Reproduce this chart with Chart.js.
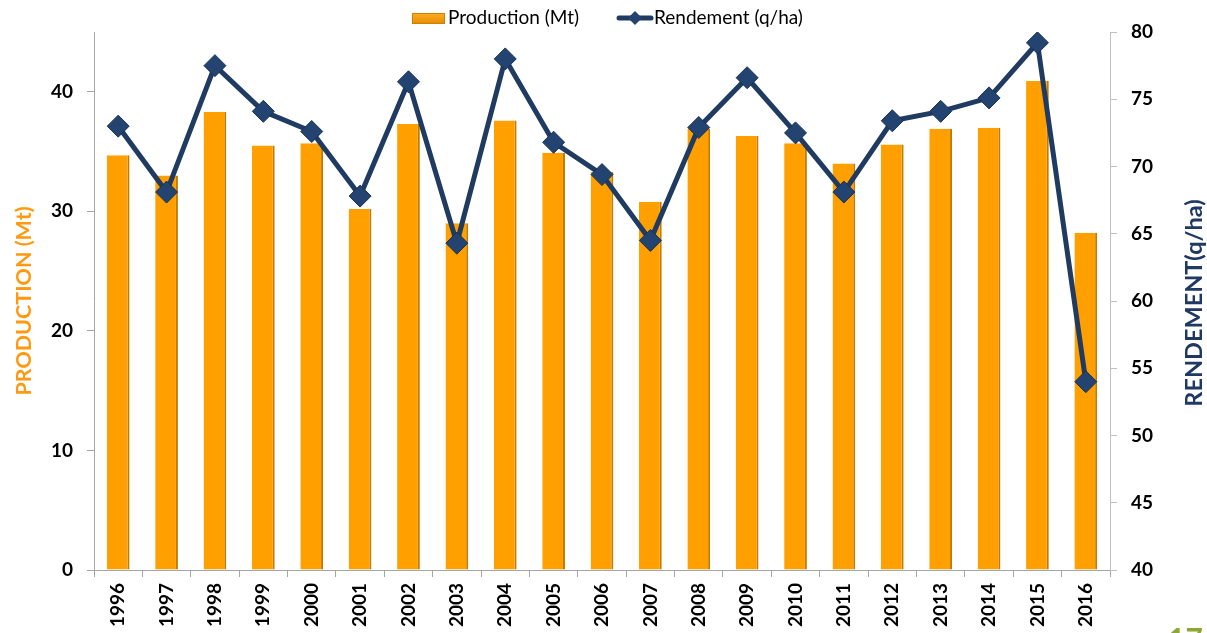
<!DOCTYPE html>
<html>
<head>
<meta charset="utf-8">
<script src="https://cdn.jsdelivr.net/npm/chart.js@4.4.1/dist/chart.umd.min.js"></script>
<style>
  html, body { margin: 0; padding: 0; background: #ffffff; }
  #wrap { position: relative; width: 1207px; height: 633px; overflow: hidden; }
  canvas { display: block; }
</style>
</head>
<body>
<div id="wrap"><canvas id="c" width="1207" height="633"></canvas></div>
<script>
// ---- Data ----
const years = ['1996','1997','1998','1999','2000','2001','2002','2003','2004','2005','2006','2007','2008','2009','2010','2011','2012','2013','2014','2015','2016'];
const production = [34.7, 33.0, 38.3, 35.5, 35.7, 30.2, 37.3, 29.0, 37.6, 34.9, 33.3, 30.8, 36.9, 36.3, 35.7, 34.0, 35.6, 36.9, 37.0, 40.9, 28.2];
const rendement = [73.0, 68.1, 77.5, 74.1, 72.6, 67.8, 76.3, 64.3, 78.0, 71.8, 69.4, 64.5, 72.9, 76.6, 72.5, 68.1, 73.4, 74.1, 75.1, 79.2, 54.0];
const seriesNames = ['Production (Mt)', 'Rendement (q/ha)'];
const axisTitles = ['PRODUCTION (Mt)', 'RENDEMENT(q/ha)'];
const pageNumber = '17';

const ORANGE = '#FFA000';
const ORANGE_DARK = '#C27A00';
const NAVY = '#1F3B62';
const AXIS_GREY = '#A6A6A6';
const FONT = 'Lato, "Open Sans", sans-serif';

// Legend drawn at the top (series names come from seriesNames)
const legendPlugin = {
  id: 'topLegend',
  afterDraw(chart) {
    const ctx = chart.ctx;
    ctx.save();
    // bar symbol
    const grd = ctx.createLinearGradient(0, 12, 0, 24);
    grd.addColorStop(0, '#FFB02A'); grd.addColorStop(1, '#E58C00');
    ctx.fillStyle = grd;
    ctx.fillRect(412, 13, 33, 11);
    ctx.strokeStyle = '#D08000'; ctx.lineWidth = 1;
    ctx.strokeRect(412.5, 13.5, 32, 10);
    // line symbol
    ctx.strokeStyle = NAVY; ctx.lineWidth = 5; ctx.lineCap = 'round';
    ctx.beginPath(); ctx.moveTo(619, 18); ctx.lineTo(651, 18); ctx.stroke();
    ctx.fillStyle = '#234470';
    ctx.beginPath(); ctx.moveTo(635, 11); ctx.lineTo(642, 18); ctx.lineTo(635, 25); ctx.lineTo(628, 18); ctx.closePath(); ctx.fill();
    // texts
    ctx.fillStyle = '#000';
    ctx.font = '19px ' + FONT;
    ctx.textAlign = 'left';
    ctx.textBaseline = 'middle';
    ctx.fillText(seriesNames[0], 448, 18);
    ctx.fillText(seriesNames[1], 654, 18);
    ctx.restore();
  }
};

// Right axis title (reads bottom-to-top like the left one) and page number
const extrasPlugin = {
  id: 'extras',
  afterDraw(chart) {
    const ctx = chart.ctx;
    const area = chart.chartArea;
    ctx.save();
    ctx.translate(1194, (area.top + area.bottom) / 2 + 2);
    ctx.rotate(-Math.PI / 2);
    ctx.fillStyle = '#1F3864';
    ctx.font = 'bold 23.5px ' + FONT;
    ctx.textAlign = 'center';
    ctx.textBaseline = 'middle';
    ctx.fillText(axisTitles[1], 0, 0);
    ctx.restore();

    ctx.save();
    ctx.fillStyle = '#8CA834';
    ctx.font = 'bold 30px ' + FONT;
    ctx.textAlign = 'left';
    ctx.textBaseline = 'alphabetic';
    ctx.fillText(pageNumber, 1168, 650);
    ctx.restore();
  }
};

new Chart(document.getElementById('c'), {
  data: {
    labels: years,
    datasets: [
      {
        type: 'bar',
        label: seriesNames[0],
        data: production,
        yAxisID: 'y',
        backgroundColor: ORANGE,
        borderColor: ORANGE_DARK,
        borderWidth: { top: 0, left: 0, right: 2, bottom: 0 },
        borderSkipped: false,
        categoryPercentage: 1.0,
        barPercentage: 0.47,
        order: 2
      },
      {
        type: 'line',
        label: seriesNames[1],
        data: rendement,
        yAxisID: 'y1',
        borderColor: NAVY,
        borderWidth: 5,
        pointStyle: 'rectRot',
        pointRadius: 11,
        pointBackgroundColor: '#234470',
        pointBorderColor: '#1A3253',
        pointBorderWidth: 1,
        tension: 0,
        order: 1
      }
    ]
  },
  options: {
    responsive: false,
    animation: false,
    layout: { padding: { left: 0, right: 0, top: 32, bottom: 0 } },
    plugins: {
      tooltip: { enabled: false },
      legend: { display: false }
    },
    scales: {
      x: {
        type: 'category',
        offset: true,
        grid: { display: true, drawOnChartArea: false, drawTicks: true, tickLength: 7, color: AXIS_GREY, offset: true },
        border: { display: true, color: AXIS_GREY, width: 1 },
        ticks: { minRotation: 90, maxRotation: 90, autoSkip: false, padding: 6, color: '#000', font: { family: FONT, size: 19, weight: 'bold' } },
        afterFit(s) { s.height = 63; }
      },
      y: {
        type: 'linear', position: 'left', min: 0, max: 45,
        grid: { display: true, drawOnChartArea: false, drawTicks: true, tickLength: 7, color: AXIS_GREY },
        border: { display: true, color: AXIS_GREY, width: 1 },
        ticks: { stepSize: 10, includeBounds: false, padding: 14, color: '#000', font: { family: FONT, size: 19, weight: 'bold' } },
        title: { display: true, text: axisTitles[0], color: '#FF9A10', padding: { top: 11, bottom: 0 }, font: { family: FONT, size: 21.5, weight: 'bold' } },
        afterFit(s) { s.width = 94; }
      },
      y1: {
        type: 'linear', position: 'right', min: 40, max: 80,
        grid: { display: true, drawOnChartArea: false, drawTicks: true, tickLength: 7, color: '#BFBFBF' },
        border: { display: true, color: '#BFBFBF', width: 1 },
        ticks: { stepSize: 5, padding: 14, color: '#000', font: { family: FONT, size: 19, weight: 'bold' } },
        title: { display: false },
        afterFit(s) { s.width = 97; }
      }
    }
  },
  plugins: [legendPlugin, extrasPlugin]
});
</script>
</body>
</html>
